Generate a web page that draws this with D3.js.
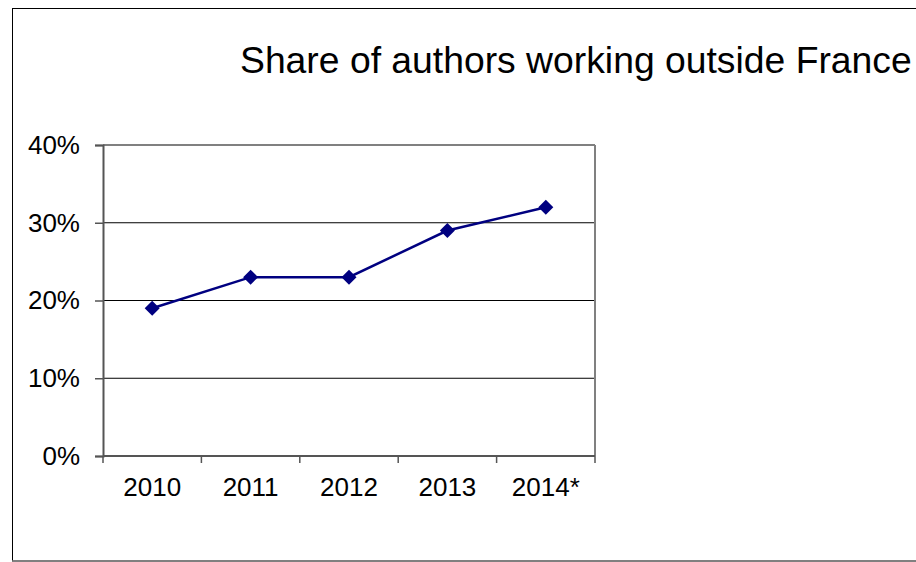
<!DOCTYPE html>
<html><head><meta charset="utf-8">
<script src="https://cdn.jsdelivr.net/npm/d3@7"></script>
<style>html,body{margin:0;padding:0;background:#fff;}svg{display:block;}</style>
</head><body>
<svg id="c" width="916" height="562"></svg>
<script>
const categories = ["2010", "2011", "2012", "2013", "2014*"];
const values = [0.19, 0.23, 0.23, 0.29, 0.32];
const yTicks = [0, 0.1, 0.2, 0.3, 0.4];
const title = "Share of authors working outside France";

const svg = d3.select("#c");
const font = "'Liberation Sans', Arial, sans-serif";

// outer frame
svg.append("rect").attr("x", 12.5).attr("y", 8.5).attr("width", 920).attr("height", 552.5)
  .attr("fill", "#fff").attr("stroke", "#000").attr("stroke-width", 1);
svg.append("line").attr("x1", 12).attr("x2", 916).attr("y1", 561).attr("y2", 561)
  .attr("stroke", "#808080").attr("stroke-width", 1.5);

const L = 103, R = 595, T = 145, B = 456;
const x = d3.scaleBand().domain(categories).range([L, R]);
const y = d3.scaleLinear().domain([0, 0.4]).range([B, T]);

// title
svg.append("text").attr("x", 240).attr("y", 73).attr("font-family", font)
  .attr("font-size", 37.3).attr("fill", "#000").text(title);

// gridlines
svg.append("g").selectAll("line").data(yTicks.filter(d => d > 0 && d < 0.4)).join("line")
  .attr("x1", L).attr("x2", R).attr("y1", d => y(d)).attr("y2", d => y(d))
  .attr("stroke", "#000").attr("stroke-width", 1);

// plot border top & right
svg.append("line").attr("x1", L).attr("x2", R).attr("y1", T).attr("y2", T)
  .attr("stroke", "#808080").attr("stroke-width", 2);
svg.append("line").attr("x1", R).attr("x2", R).attr("y1", T).attr("y2", B)
  .attr("stroke", "#808080").attr("stroke-width", 2);

// y axis
const yAxis = svg.append("g").attr("transform", `translate(${L},0)`)
  .call(d3.axisLeft(y).tickValues(yTicks).tickFormat(d3.format(".0%")).tickSize(8).tickPadding(15));
yAxis.select(".domain").attr("stroke", "#555").attr("stroke-width", 2);
yAxis.selectAll(".tick line").attr("stroke", "#555").attr("stroke-width", 1.5);
yAxis.selectAll("text").attr("font-family", font).attr("font-size", 26).attr("fill", "#000");

// x axis
const xAxis = svg.append("g").attr("transform", `translate(0,${B})`)
  .call(d3.axisBottom(x).tickSize(0).tickPadding(22));
xAxis.select(".domain").remove();
xAxis.selectAll("text").attr("font-family", font).attr("font-size", 26).attr("fill", "#000");
svg.append("line").attr("x1", L).attr("x2", R).attr("y1", B).attr("y2", B)
  .attr("stroke", "#555").attr("stroke-width", 2);
const edges = categories.map(c => x(c)).concat([x(categories[categories.length-1]) + x.bandwidth()]);
svg.append("g").selectAll("line").data(edges).join("line")
  .attr("x1", d => d).attr("x2", d => d).attr("y1", B).attr("y2", B + 7)
  .attr("stroke", "#555").attr("stroke-width", 1.5);

// line
const cx = c => x(c) + x.bandwidth() / 2;
svg.append("path").datum(values)
  .attr("d", d3.line().x((d, i) => cx(categories[i])).y(d => y(d)))
  .attr("fill", "none").attr("stroke", "#000080").attr("stroke-width", 2.5);

// markers
svg.append("g").selectAll("path").data(values).join("path")
  .attr("transform", (d, i) => `translate(${cx(categories[i])},${y(d)})`)
  .attr("d", "M0,-7.5L7.5,0L0,7.5L-7.5,0Z").attr("fill", "#000080");
</script>
</body></html>
